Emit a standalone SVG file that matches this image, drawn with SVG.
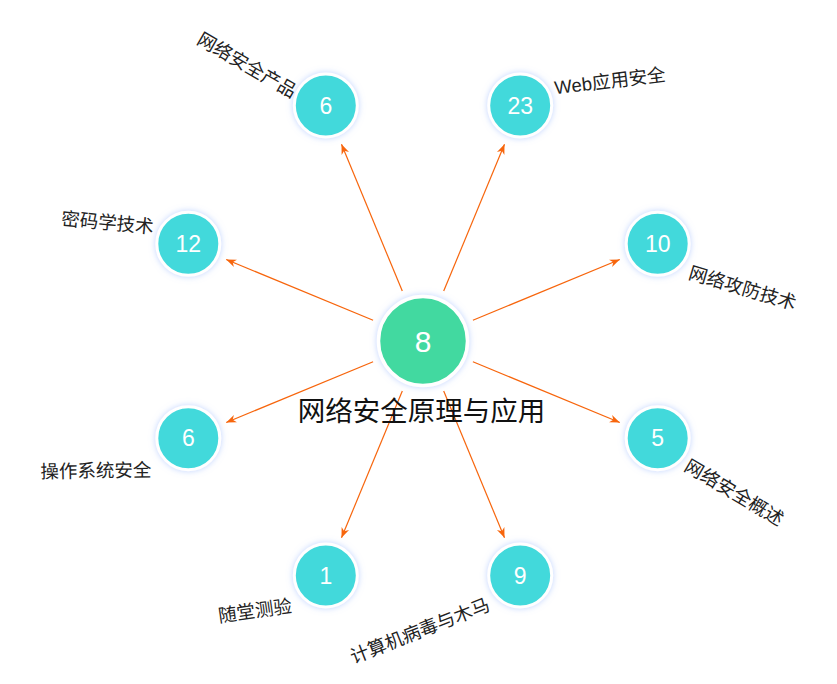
<svg xmlns="http://www.w3.org/2000/svg" width="837" height="684" viewBox="0 0 837 684">
<style>
.node{fill:#43d9db;stroke:#fff;stroke-width:3;filter:url(#glow)}
.center{fill:#43d9a0;stroke:#fff;stroke-width:3.5;filter:url(#glow)}
.num{fill:#fff;font-family:"Liberation Sans",Arial,sans-serif;font-size:23px;text-anchor:middle;dominant-baseline:central}
.lbl{fill:#222;font-family:"Liberation Sans","Noto Sans CJK SC",sans-serif;font-size:18.5px;text-anchor:middle;dominant-baseline:central}
.edge{stroke:#f7650c;stroke-width:1.2;fill:none;marker-end:url(#arr)}
</style>
<defs>
<filter id="glow" x="-40%" y="-40%" width="180%" height="180%">
<feDropShadow dx="0" dy="0" stdDeviation="3" flood-color="#8fb0ff" flood-opacity="0.55"/>
</filter>
<marker id="arr" markerUnits="userSpaceOnUse" markerWidth="12" markerHeight="10" refX="10" refY="4" orient="auto" viewBox="0 0 12 8">
<path d="M0,0 L10,4 L0,8 L3,4 z" fill="#f7650c"/>
</marker>
</defs>
<rect width="837" height="684" fill="#fff"/>
<g id="edges">
<line class="edge" x1="402.3" y1="291.1" x2="341.5" y2="144.2"/>
<line class="edge" x1="443.7" y1="291.1" x2="504.5" y2="144.2"/>
<line class="edge" x1="373.1" y1="320.3" x2="226.2" y2="259.5"/>
<line class="edge" x1="472.9" y1="320.3" x2="619.8" y2="259.5"/>
<line class="edge" x1="373.1" y1="361.7" x2="226.2" y2="422.5"/>
<line class="edge" x1="472.9" y1="361.7" x2="619.8" y2="422.5"/>
<line class="edge" x1="402.3" y1="390.9" x2="341.5" y2="537.8"/>
<line class="edge" x1="443.7" y1="390.9" x2="504.5" y2="537.8"/>
</g>
<g id="n-center">
<circle class="center" cx="423" cy="341" r="44.5"/>
<text class="num" x="423" y="341" style="font-size:30px">8</text>
<text x="421.5" y="411" style="fill:#111;font-family:'Liberation Sans','Noto Sans CJK SC',sans-serif;font-size:27.5px;text-anchor:middle;dominant-baseline:central">网络安全原理与应用</text>
</g>
<g id="n-product">
<circle class="node" cx="325.8" cy="105.5" r="31.5"/>
<text class="num" x="325.8" y="105.5">6</text>
<text class="lbl" transform="translate(247,65) rotate(30)">网络安全产品</text>
</g>
<g id="n-web">
<circle class="node" cx="520.2" cy="105.5" r="31.5"/>
<text class="num" x="520.2" y="105.5">23</text>
<text class="lbl" transform="translate(610,81) rotate(-7)">Web应用安全</text>
</g>
<g id="n-crypto">
<circle class="node" cx="188.3" cy="243.8" r="31.5"/>
<text class="num" x="188.3" y="243.8">12</text>
<text class="lbl" transform="translate(107.5,222.7) rotate(5.3)">密码学技术</text>
</g>
<g id="n-attack">
<circle class="node" cx="657.7" cy="243.8" r="31.5"/>
<text class="num" x="657.7" y="243.8">10</text>
<text class="lbl" transform="translate(742.5,288) rotate(16.5)">网络攻防技术</text>
</g>
<g id="n-os">
<circle class="node" cx="188.3" cy="438.2" r="31.5"/>
<text class="num" x="188.3" y="438.2">6</text>
<text class="lbl" transform="translate(96,470.8) rotate(-1)">操作系统安全</text>
</g>
<g id="n-overview">
<circle class="node" cx="657.7" cy="438.2" r="31.5"/>
<text class="num" x="657.7" y="438.2">5</text>
<text class="lbl" transform="translate(734.2,492.5) rotate(30.6)">网络安全概述</text>
</g>
<g id="n-quiz">
<circle class="node" cx="325.8" cy="575.5" r="31.5"/>
<text class="num" x="325.8" y="575.5">1</text>
<text class="lbl" transform="translate(255,610.8) rotate(-8)">随堂测验</text>
</g>
<g id="n-virus">
<circle class="node" cx="520.2" cy="575.5" r="31.5"/>
<text class="num" x="520.2" y="575.5">9</text>
<text class="lbl" transform="translate(420,630.8) rotate(-21.4)">计算机病毒与木马</text>
</g>
</svg>
